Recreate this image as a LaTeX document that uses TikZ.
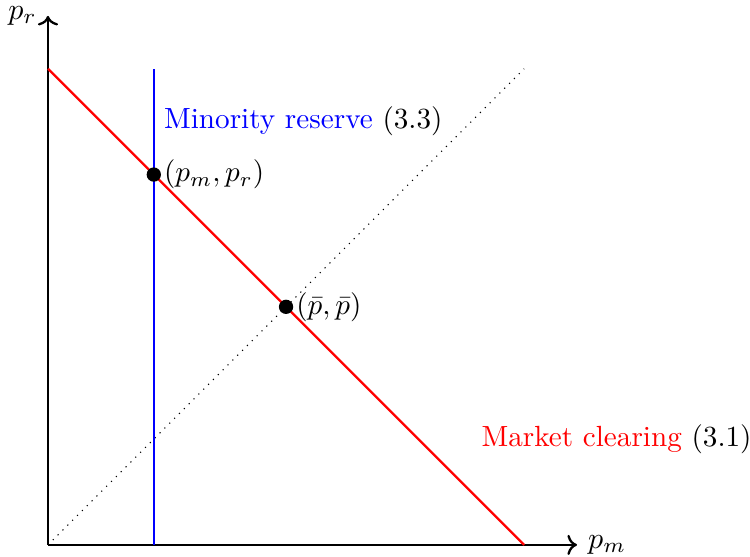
\documentclass[tikz,border=0pt]{standalone}
\usepackage{amsmath,amssymb}
\usepackage{tikz}
\usetikzlibrary{positioning, arrows.meta}

\begin{document}
\begin{tikzpicture}[
    x=0.65cm, y=0.65cm,
    axis/.style={->, thick, black},
    clearing/.style={thick, red},
    reserve/.style={thick, blue},
    diag/.style={dotted, black},
    pt/.style={circle, fill=black, inner sep=0pt, minimum size=5pt},
    lbl/.style={anchor=west, scale=1.02},
]
\useasboundingbox (-0.907,-0.227) rectangle (13.27,10.30);

% Axes
\coordinate (origin) at (0,0);
\coordinate (xend) at (10,0);
\coordinate (yend) at (0,10);
\draw[axis] (origin) -- (xend) node[right, scale=1.05] (pm) {$p_m$};
\draw[axis] (origin) -- (yend) node[left, scale=1.05] (pr) {$p_r$};

% 45 degree line
\coordinate (dtop) at (9,9);
\draw[diag] (origin) -- (dtop);

% Minority reserve
\coordinate (rbot) at (2,0);
\coordinate (rtop) at (2,9);
\draw[reserve] (rbot) -- (rtop);
\node[lbl, text=blue] (reslbl) at (2,8) {Minority reserve \textcolor{black}{(3.3)}};

% Market clearing
\coordinate (ctop) at (0,9);
\coordinate (cbot) at (9,0);
\draw[clearing] (ctop) -- (cbot);
\node[lbl, text=red] (clrlbl) at (8,2) {Market clearing \textcolor{black}{(3.1)}};

% Points
\node[pt] (eq) at (2,7) {};
\node[lbl] (eqlbl) at (eq.center) {$(p_m,p_r)$};
\node[pt] (pbar) at (4.5,4.5) {};
\node[lbl] (pbarlbl) at (pbar.center) {$(\bar{p},\bar{p})$};

\end{tikzpicture}
\end{document}
